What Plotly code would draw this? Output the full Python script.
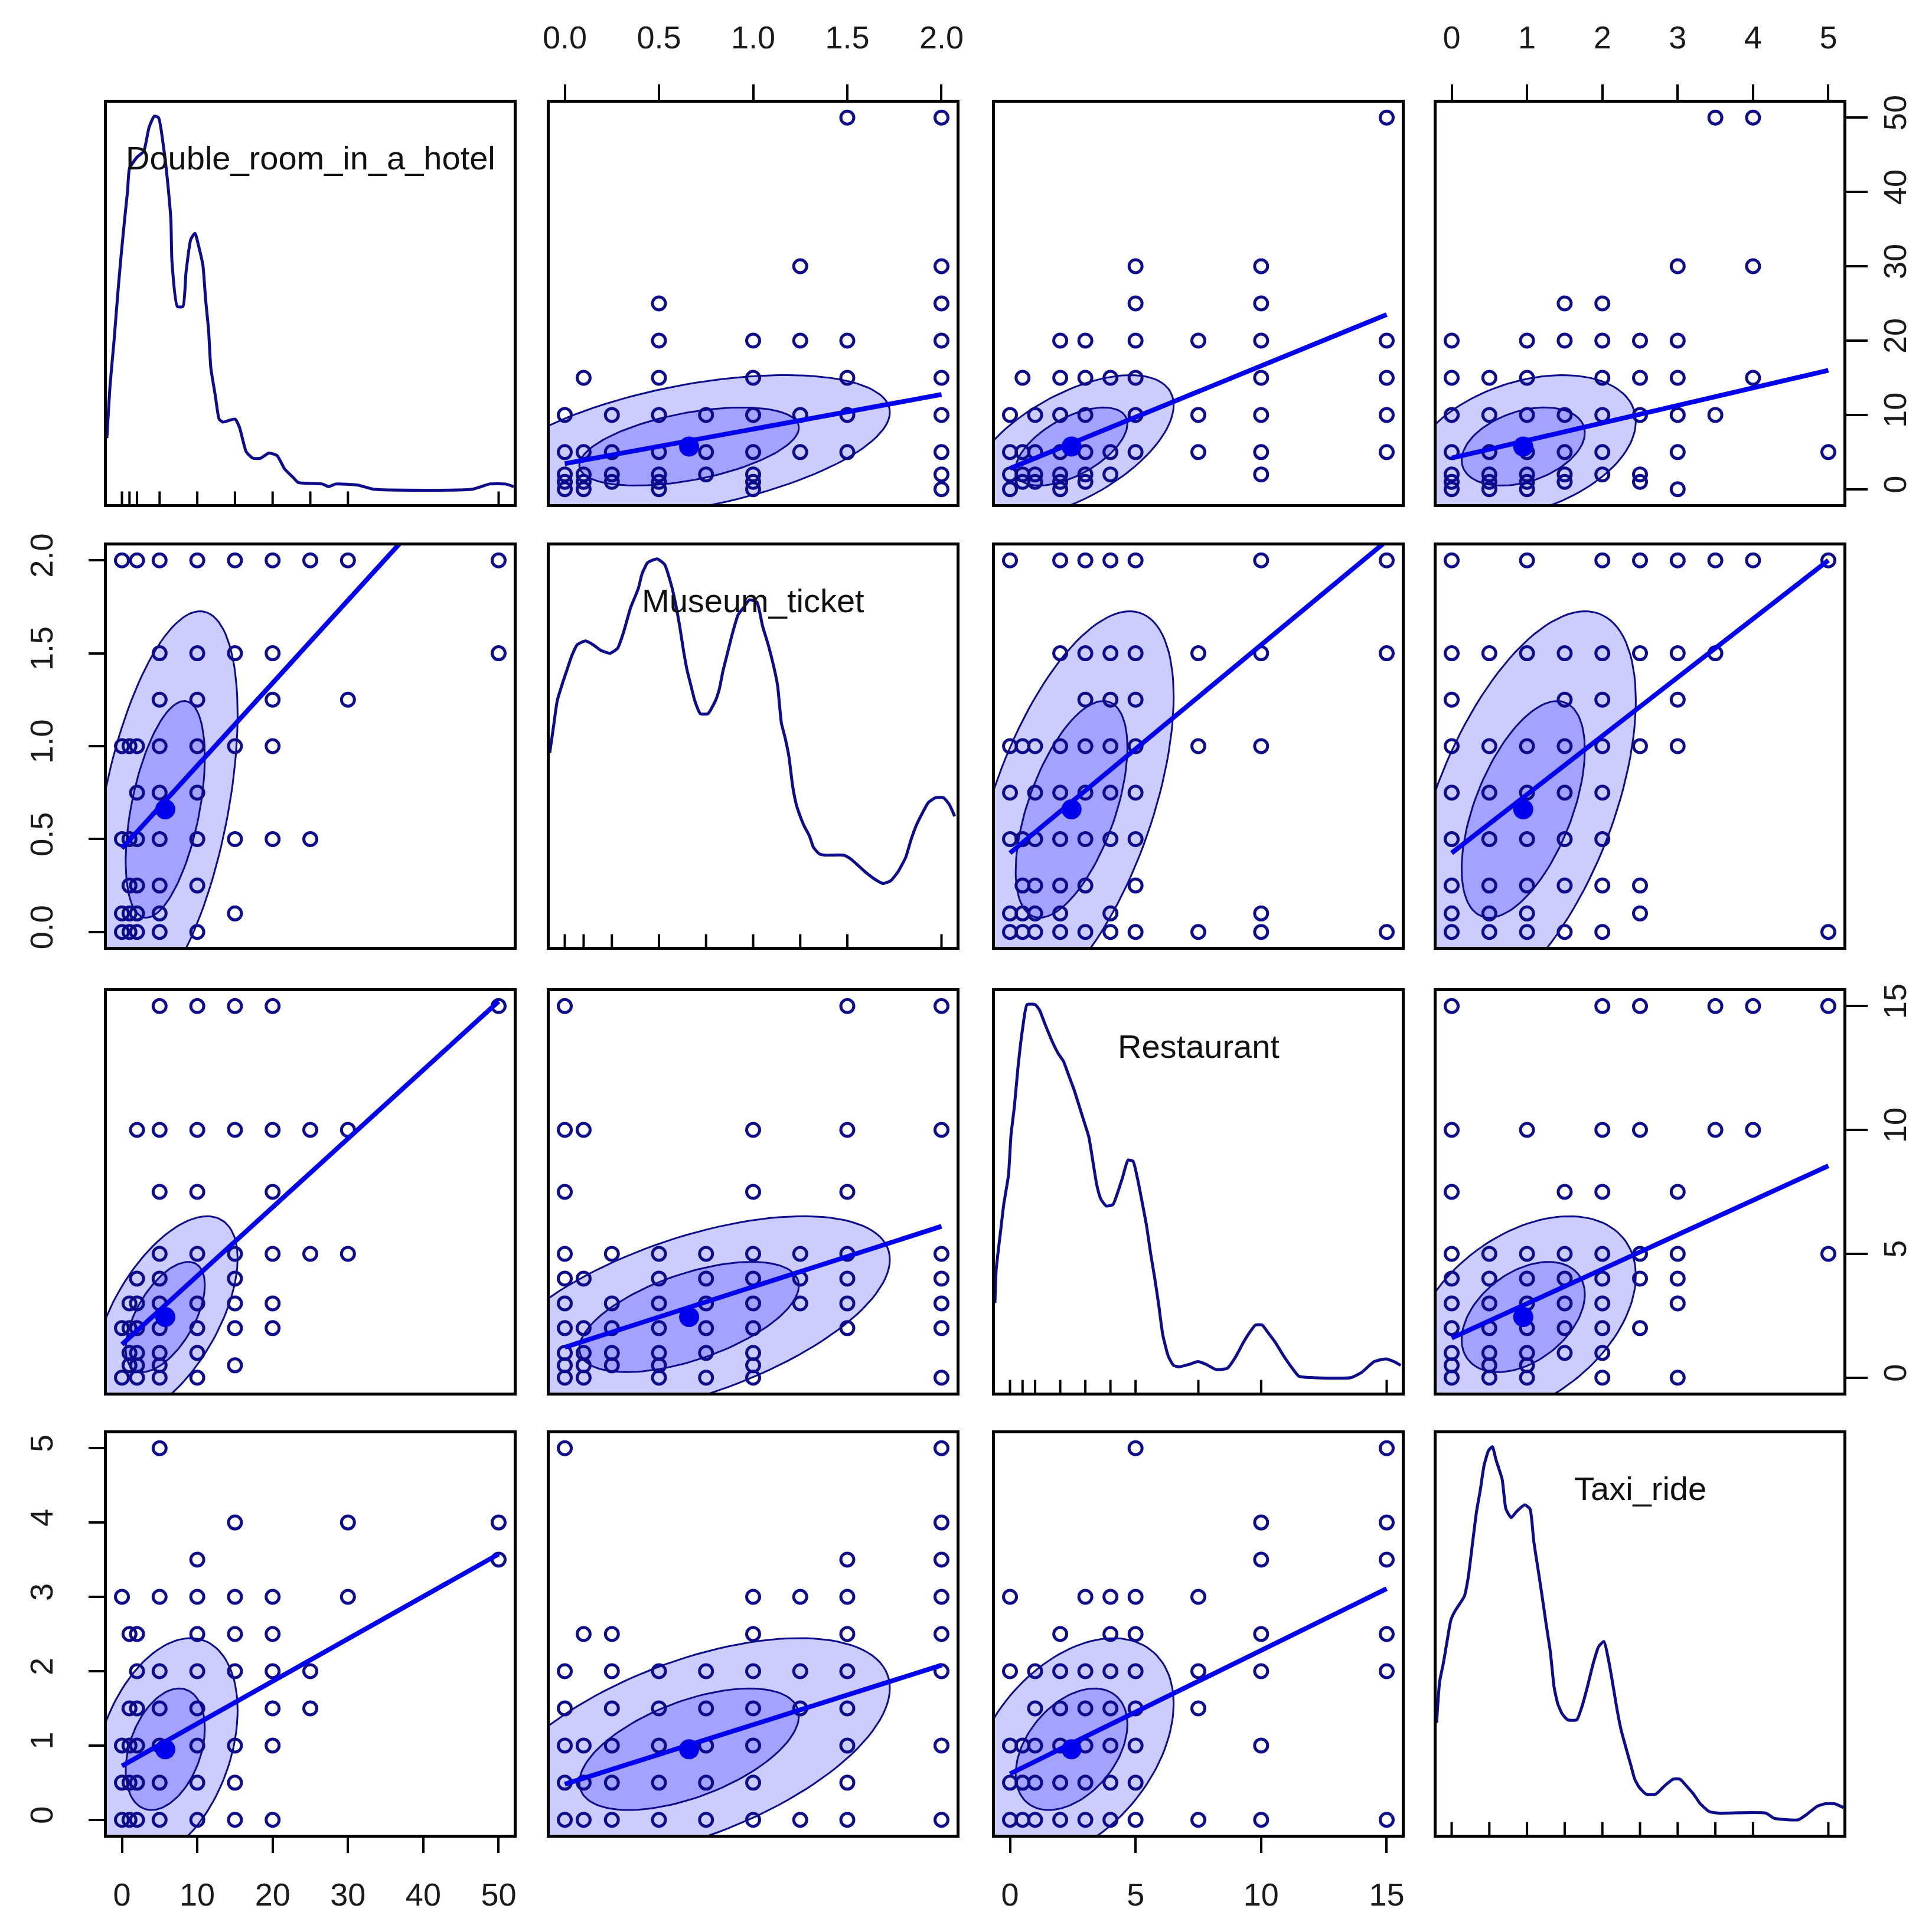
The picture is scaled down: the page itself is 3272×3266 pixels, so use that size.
import numpy as np
import plotly.graph_objects as go

# ---- data ----
var_names = ["Double_room_in_a_hotel", "Museum_ticket", "Restaurant", "Taxi_ride"]
var_lims = [(0, 50), (0, 2), (0, 15), (0, 5)]
var_ticks = [[0, 10, 20, 30, 40, 50], [0, 0.5, 1, 1.5, 2], [0, 5, 10, 15], [0, 1, 2, 3, 4, 5]]
var_tick_text = [["0", "10", "20", "30", "40", "50"], ["0.0", "0.5", "1.0", "1.5", "2.0"],
                 ["0", "5", "10", "15"], ["0", "1", "2", "3", "4", "5"]]

# centre, spread and correlation used for the data ellipses
var_means = [5.75, 0.66, 2.45, 0.95]
var_sds = [3.92, 0.435, 1.66, 0.61]
corr = {(0, 1): 0.48, (0, 2): 0.58, (0, 3): 0.35, (1, 2): 0.57, (1, 3): 0.55, (2, 3): 0.41}

# fitted lines y(row) = a + b * x(col)
reg_lines = {
    (0, 1): (3.45, 4.65), (0, 2): (2.8, 1.38), (0, 3): (4.2, 2.36),
    (1, 0): (0.45, 0.0445), (1, 2): (0.425, 0.112), (1, 3): (0.425, 0.315),
    (2, 0): (1.34, 0.277), (2, 1): (1.23, 2.44), (2, 3): (1.6, 1.39),
    (3, 0): (0.725, 0.057), (3, 1): (0.48, 0.80), (3, 2): (0.62, 0.166),
}

# observed pairs: key = value of 2nd variable, list = values of 1st variable
hotel_by_museum = {
    2.0: [0, 2, 5, 10, 15, 20, 25, 30, 50],
    1.5: [5, 10, 15, 20, 50],
    1.25: [5, 10, 20, 30],
    1.0: [0, 1, 2, 5, 10, 15, 20],
    0.75: [2, 5, 10],
    0.5: [0, 1, 2, 5, 10, 15, 20, 25],
    0.25: [1, 2, 5, 10],
    0.1: [0, 1, 2, 5, 15],
    0.0: [0, 1, 2, 5, 10],
}
hotel_by_rest = {
    15: [5, 10, 15, 20, 50],
    10: [2, 5, 10, 15, 20, 25, 30],
    7.5: [5, 10, 20],
    5: [5, 10, 15, 20, 25, 30],
    4: [2, 5, 15],
    3: [1, 2, 5, 10, 15, 20],
    2: [0, 1, 2, 5, 10, 15, 20],
    1: [1, 2, 5, 10],
    0.5: [1, 2, 5, 15],
    0: [0, 2, 5, 10],
}
hotel_by_taxi = {
    5: [5],
    4: [15, 30, 50],
    3.5: [10, 50],
    3: [0, 5, 10, 15, 20, 30],
    2.5: [1, 2, 10, 15, 20],
    2: [2, 5, 10, 15, 20, 25],
    1.5: [1, 2, 5, 10, 20, 25],
    1: [0, 1, 2, 5, 10, 15, 20],
    0.5: [0, 1, 2, 5, 10, 15],
    0: [0, 1, 2, 5, 10, 15, 20],
}
museum_by_rest = {
    15: [0, 1.5, 2.0],
    10: [0, 0.1, 1.0, 1.5, 2.0],
    7.5: [0, 1.0, 1.5],
    5: [0, 0.25, 0.5, 0.75, 1.0, 1.25, 1.5, 2.0],
    4: [0, 0.1, 0.5, 0.75, 1.0, 1.25, 1.5, 2.0],
    3: [0, 0.25, 0.5, 0.75, 1.0, 1.25, 1.5, 2.0],
    2: [0, 0.1, 0.25, 0.5, 0.75, 1.0, 1.5, 2.0],
    1: [0, 0.1, 0.25, 0.5, 0.75, 1.0],
    0.5: [0, 0.1, 0.25, 0.5, 1.0],
    0: [0, 0.1, 0.5, 0.75, 1.0, 2.0],
}
museum_by_taxi = {
    5: [0, 2.0],
    4: [2.0],
    3.5: [1.5, 2.0],
    3: [1.0, 1.25, 1.5, 2.0],
    2.5: [0.1, 0.25, 1.0, 1.5, 2.0],
    2: [0, 0.25, 0.5, 0.75, 1.0, 1.25, 1.5, 2.0],
    1.5: [0, 0.25, 0.5, 0.75, 1.0, 1.25, 1.5],
    1: [0, 0.1, 0.25, 0.5, 0.75, 1.0, 1.5, 2.0],
    0.5: [0, 0.1, 0.25, 0.5, 0.75, 1.0, 1.5],
    0: [0, 0.1, 0.25, 0.5, 0.75, 1.0, 1.25, 1.5, 2.0],
}
rest_by_taxi = {
    5: [5, 15],
    4: [10, 15],
    3.5: [10, 15],
    3: [0, 3, 4, 5, 7.5],
    2.5: [2, 4, 5, 10, 15],
    2: [0, 1, 2, 3, 4, 5, 7.5, 10, 15],
    1.5: [1, 2, 3, 4, 5, 7.5],
    1: [0, 0.5, 1, 2, 3, 4, 5, 10],
    0.5: [0, 0.5, 1, 2, 3, 4, 5],
    0: [0, 0.5, 1, 2, 3, 4, 5, 7.5, 10, 15],
}

# rug values on the diagonal
rug_hotel = [0, 1, 2, 5, 10, 15, 20, 25, 30, 50]
rug_museum = [0, 0.1, 0.25, 0.5, 0.75, 1.0, 1.25, 1.5, 2.0]
rug_rest = [0, 0.5, 1, 2, 3, 4, 5, 7.5, 10, 15]
rug_taxi = [0, 0.5, 1, 1.5, 2, 2.5, 3, 3.5, 4, 5]

# density curves (relative height)
dens_hotel_x = [-2, -1.57, -1.04, -0.57, -0.14, 0.39, 0.75, 1.0, 2.0, 2.9, 3.6, 4.3, 4.86, 5.57, 6.1,
                6.5, 6.64, 7.36, 8.1, 8.5, 9.14, 9.7, 10.2, 10.75, 11.1, 11.5, 11.8, 12.4, 12.9, 13.4,
                15.0, 15.6, 16.5, 17.4, 18.4, 19.5, 20.6, 21.6, 22.7, 23.4, 26.6, 27.4, 28.4, 31.3, 33.4,
                46.5, 48.8, 50.9, 52]
dens_hotel_y = [0.137, 0.28, 0.40, 0.52, 0.62, 0.73, 0.80, 0.86, 0.89, 0.906, 0.97, 1.0, 0.996, 0.91, 0.816,
                0.72, 0.61, 0.49, 0.49, 0.58, 0.67, 0.686, 0.65, 0.60, 0.51, 0.426, 0.325, 0.25, 0.188, 0.18,
                0.188, 0.166, 0.10, 0.083, 0.083, 0.097, 0.09, 0.054, 0.032, 0.018, 0.014, 0.007, 0.014, 0.011, 0,
                0, 0.014, 0.014, 0.007]
dens_museum_x = [-0.08, -0.06, -0.04, -0.01, 0.01, 0.037, 0.066, 0.11, 0.15, 0.19, 0.24, 0.28, 0.31, 0.35,
                 0.39, 0.41, 0.44, 0.49, 0.53, 0.56, 0.58, 0.61, 0.63, 0.65, 0.67, 0.69, 0.72, 0.76, 0.80,
                 0.82, 0.84, 0.86, 0.89, 0.92, 0.95, 0.98, 1.02, 1.05, 1.08, 1.11, 1.13, 1.15, 1.17, 1.19,
                 1.21, 1.23, 1.25, 1.27, 1.30, 1.32, 1.35, 1.38, 1.48, 1.52, 1.56, 1.60, 1.65, 1.69, 1.73,
                 1.77, 1.81, 1.84, 1.87, 1.90, 1.93, 1.97, 2.01, 2.04, 2.07]
dens_museum_y = [0.48, 0.55, 0.62, 0.67, 0.70, 0.74, 0.77, 0.78, 0.77, 0.755, 0.747, 0.76, 0.80, 0.87,
                 0.92, 0.96, 0.99, 1.0, 0.985, 0.94, 0.90, 0.82, 0.755, 0.70, 0.66, 0.62, 0.585, 0.585, 0.62,
                 0.65, 0.70, 0.74, 0.80, 0.85, 0.87, 0.89, 0.884, 0.82, 0.77, 0.71, 0.66, 0.56, 0.52, 0.47,
                 0.39, 0.34, 0.31, 0.285, 0.256, 0.227, 0.21, 0.206, 0.206, 0.195, 0.177, 0.159, 0.14, 0.13, 0.137,
                 0.162, 0.20, 0.25, 0.29, 0.32, 0.347, 0.36, 0.36, 0.343, 0.31]
dens_rest_x = [-0.6, -0.55, -0.39, -0.25, -0.06, 0.04, 0.18, 0.31, 0.5, 0.68, 1.0, 1.17, 1.38, 1.65, 1.91,
               2.13, 2.34, 2.56, 2.77, 2.98, 3.14, 3.30, 3.46, 3.62, 3.84, 4.1, 4.27, 4.48, 4.7, 4.9,
               5.07, 5.28, 5.44, 5.6, 5.76, 5.92, 6.08, 6.3, 6.51, 6.73, 7.15, 7.48, 7.8, 8.2, 8.65,
               8.97, 9.29, 9.56, 9.78, 10.04, 10.25, 10.57, 10.9, 11.2, 11.5, 12.07, 13.57, 14.0, 14.5, 14.96,
               15.29, 15.56]
dens_rest_y = [0.20, 0.29, 0.384, 0.464, 0.543, 0.65, 0.73, 0.826, 0.935, 1.0, 1.0, 0.986, 0.95, 0.906, 0.87,
               0.848, 0.81, 0.77, 0.725, 0.68, 0.645, 0.58, 0.515, 0.478, 0.46, 0.464, 0.493, 0.536, 0.583, 0.58,
               0.536, 0.464, 0.406, 0.333, 0.268, 0.196, 0.116, 0.058, 0.033, 0.029, 0.036, 0.043, 0.036, 0.022, 0.025,
               0.054, 0.094, 0.123, 0.141, 0.141, 0.123, 0.094, 0.058, 0.029, 0.004, 0, 0, 0.014, 0.043, 0.05,
               0.043, 0.033]
dens_taxi_x = [-0.2, -0.16, -0.11, -0.06, -0.01, 0.04, 0.11, 0.17, 0.22, 0.27, 0.33, 0.38, 0.43, 0.49, 0.54,
               0.59, 0.67, 0.72, 0.79, 0.86, 0.97, 1.04, 1.09, 1.15, 1.2, 1.25, 1.31, 1.36, 1.41, 1.47,
               1.54, 1.66, 1.73, 1.80, 1.88, 1.95, 2.02, 2.09, 2.14, 2.2, 2.25, 2.32, 2.38, 2.43, 2.49,
               2.58, 2.71, 2.82, 2.94, 3.03, 3.12, 3.21, 3.30, 3.42, 3.53, 4.17, 4.28, 4.6, 4.71, 4.85,
               4.96, 5.08, 5.2]
dens_taxi_y = [0.26, 0.37, 0.42, 0.48, 0.536, 0.558, 0.58, 0.60, 0.65, 0.73, 0.826, 0.884, 0.95, 0.99, 1.0,
               0.964, 0.913, 0.833, 0.81, 0.826, 0.844, 0.833, 0.746, 0.667, 0.60, 0.53, 0.45, 0.355, 0.31, 0.283,
               0.268, 0.268, 0.304, 0.355, 0.42, 0.464, 0.478, 0.42, 0.362, 0.29, 0.24, 0.188, 0.145, 0.109, 0.087,
               0.069, 0.069, 0.09, 0.109, 0.109, 0.09, 0.069, 0.043, 0.022, 0.018, 0.018, 0.004, 0, 0.014, 0.036,
               0.043, 0.043, 0.033]

# ---- styling / layout ----
W, H = 3272, 3266
col_left = [173, 923, 1677, 2425]
row_top = [166, 916, 1671, 2420]
PW, PH = 689, 680
FONT = "Liberation Sans, Arial, sans-serif"
PT_COL = "#0c0c8c"
LINE_COL = "#0000ee"
FILL = "rgba(0,0,255,0.2)"
R_OUT, R_IN = 2.45, 1.34


def expand(rows):
    a, b = [], []
    for key, vals in rows.items():
        for v in vals:
            a.append(v)
            b.append(key)
    return a, b


pairs = {
    (0, 1): expand(hotel_by_museum),
    (0, 2): expand(hotel_by_rest),
    (0, 3): expand(hotel_by_taxi),
    (1, 2): expand(museum_by_rest),
    (1, 3): expand(museum_by_taxi),
    (2, 3): expand(rest_by_taxi),
}
dens = [(dens_hotel_x, dens_hotel_y), (dens_museum_x, dens_museum_y),
        (dens_rest_x, dens_rest_y), (dens_taxi_x, dens_taxi_y)]
rugs = [rug_hotel, rug_museum, rug_rest, rug_taxi]


def padded(lo, hi):
    d = (hi - lo) * 0.04
    return [lo - d, hi + d]


def ellipse(mx, my, sx, sy, rho, rad):
    t = np.linspace(0, 2 * np.pi, 120)
    x = mx + rad * sx * np.cos(t)
    y = my + rad * sy * (rho * np.cos(t) + np.sqrt(1 - rho ** 2) * np.sin(t))
    return x, y


fig = go.Figure()
layout = dict(width=W, height=H, margin=dict(l=0, r=0, t=0, b=0),
              paper_bgcolor="white", plot_bgcolor="white", showlegend=False,
              font=dict(family=FONT, size=54, color="#1a1a1a"))
annotations = []

for r in range(4):
    for c in range(4):
        k = r * 4 + c + 1
        xa = "x" if k == 1 else f"x{k}"
        ya = "y" if k == 1 else f"y{k}"
        xr = padded(*var_lims[c])

        if r == c:
            dx, dy = dens[c]
            fig.add_trace(go.Scatter(x=dx, y=dy, mode="lines", xaxis=xa, yaxis=ya,
                                     line=dict(color=PT_COL, width=5, shape="spline", smoothing=0.5),
                                     hoverinfo="skip"))
            rx, ry = [], []
            for v in rugs[c]:
                rx += [v, v, None]
                ry += [-0.04, -0.006, None]
            fig.add_trace(go.Scatter(x=rx, y=ry, mode="lines", xaxis=xa, yaxis=ya,
                                     line=dict(color="black", width=4), hoverinfo="skip"))
            yr = [-0.04, 1.036]
            annotations.append(dict(text=var_names[c], x=0.5, y=0.863, xref=f"{xa} domain",
                                    yref=f"{ya} domain", showarrow=False, yanchor="middle",
                                    font=dict(family=FONT, size=56, color="#111111")))
        else:
            i, j = min(r, c), max(r, c)
            vi, vj = pairs[(i, j)]
            xs = vi if c == i else vj
            ys = vi if r == i else vj
            rho = corr[(i, j)]
            for rad in (R_OUT, R_IN):
                ex, ey = ellipse(var_means[c], var_means[r], var_sds[c], var_sds[r], rho, rad)
                fig.add_trace(go.Scatter(x=ex, y=ey, mode="lines", fill="toself", fillcolor=FILL,
                                         xaxis=xa, yaxis=ya, line=dict(color=PT_COL, width=3),
                                         hoverinfo="skip"))
            fig.add_trace(go.Scatter(x=xs, y=ys, mode="markers", xaxis=xa, yaxis=ya,
                                     marker=dict(symbol="circle-open", size=22, color=PT_COL,
                                                 line=dict(width=5, color=PT_COL))))
            a, b = reg_lines[(r, c)]
            lx = np.array(var_lims[c], dtype=float)
            fig.add_trace(go.Scatter(x=lx, y=a + b * lx, mode="lines", xaxis=xa, yaxis=ya,
                                     line=dict(color=LINE_COL, width=8), hoverinfo="skip"))
            fig.add_trace(go.Scatter(x=[var_means[c]], y=[var_means[r]], mode="markers",
                                     xaxis=xa, yaxis=ya,
                                     marker=dict(symbol="circle", size=34, color=LINE_COL)))
            yr = padded(*var_lims[r])

        base = dict(showgrid=False, zeroline=False, showline=True, mirror=True,
                    linecolor="black", linewidth=4.5, ticks="", showticklabels=False,
                    automargin=False)
        xax = dict(base, domain=[col_left[c] / W, (col_left[c] + PW) / W], range=xr,
                   anchor=ya)
        yax = dict(base, domain=[1 - (row_top[r] + PH) / H, 1 - row_top[r] / H], range=yr,
                   anchor=xa)

        tick_common = dict(ticks="outside", ticklen=26, tickwidth=4, tickcolor="black",
                           showticklabels=True, ticklabelstandoff=40,
                           tickfont=dict(family=FONT, size=54, color="#1a1a1a"))
        if r == 3 and c in (0, 2):
            xax.update(tick_common, side="bottom", tickvals=var_ticks[c], ticktext=var_tick_text[c],
                       ticklabelstandoff=24)
        if r == 0 and c in (1, 3):
            xax.update(tick_common, side="top", tickvals=var_ticks[c], ticktext=var_tick_text[c])
        if c == 0 and r in (1, 3):
            yax.update(tick_common, side="left", tickvals=var_ticks[r], ticktext=var_tick_text[r],
                       tickangle=-90)
        if c == 3 and r in (0, 2):
            yax.update(tick_common, side="right", tickvals=var_ticks[r], ticktext=var_tick_text[r],
                       tickangle=-90, ticklen=36, ticklabelstandoff=0)

        layout["xaxis" if k == 1 else f"xaxis{k}"] = xax
        layout["yaxis" if k == 1 else f"yaxis{k}"] = yax

layout["annotations"] = annotations
fig.update_layout(**layout)
fig.write_html("out.html")
